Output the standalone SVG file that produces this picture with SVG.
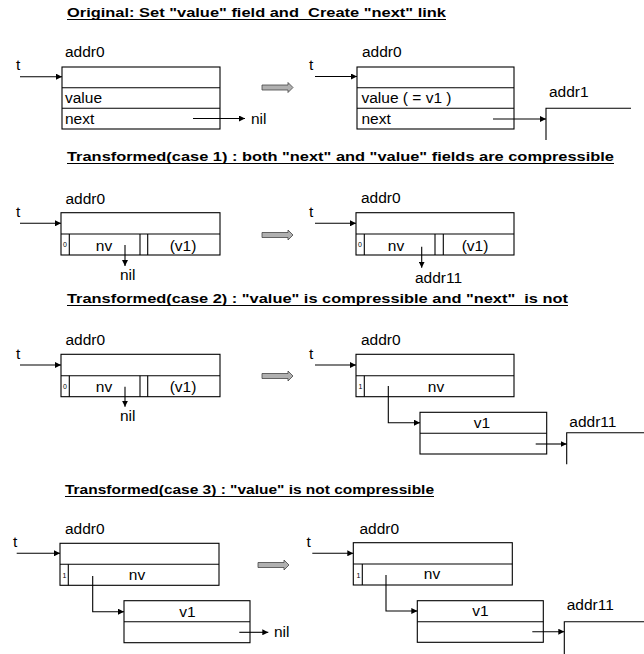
<svg xmlns="http://www.w3.org/2000/svg" width="644" height="654" viewBox="0 0 644 654">
<style>
.bx{fill:#fff;stroke:#000;stroke-width:1.1}
.ln{fill:none;stroke:#000;stroke-width:1.1}
.c{fill:none;stroke:#000;stroke-width:1.1}
.ca{fill:none;stroke:#000;stroke-width:1.1;marker-end:url(#ah)}
.lb{font-family:"Liberation Sans",Arial,sans-serif;font-size:15.5px;fill:#000}
.sm{font-family:"Liberation Sans",Arial,sans-serif;font-size:7px;fill:#000}
.tt{font-family:"Liberation Sans",Arial,sans-serif;font-size:13px;font-weight:bold;fill:#000;white-space:pre}
.ul{stroke:#000;stroke-width:1.2}
.ha{fill:#b0b0b0;stroke:#444;stroke-width:0.8}
</style>
<defs>
<marker id="ah" markerUnits="userSpaceOnUse" markerWidth="6" markerHeight="6" refX="6" refY="3" orient="auto">
<path d="M0,0 L6,3 L0,6 z" fill="#000"/>
</marker>
<path id="hollow" d="M0,-2.5 H26 V-5 L31,0 L26,5 V2.5 H0 z"/>
</defs>

<g id="titles">
<text class="tt" x="67" y="17" textLength="379" lengthAdjust="spacingAndGlyphs" xml:space="preserve">Original: Set "value" field and  Create "next" link</text>
<line class="ul" x1="67" y1="19.5" x2="446" y2="19.5"/>
<text class="tt" x="67" y="161" textLength="547" lengthAdjust="spacingAndGlyphs">Transformed(case 1) : both "next" and "value" fields are compressible</text>
<line class="ul" x1="67" y1="163.5" x2="614" y2="163.5"/>
<text class="tt" x="67" y="303" textLength="501" lengthAdjust="spacingAndGlyphs" xml:space="preserve">Transformed(case 2) : "value" is compressible and "next"  is not</text>
<line class="ul" x1="67" y1="305.5" x2="568" y2="305.5"/>
<text class="tt" x="65" y="494" textLength="369" lengthAdjust="spacingAndGlyphs">Transformed(case 3) : "value" is not compressible</text>
<line class="ul" x1="65" y1="496.5" x2="434" y2="496.5"/>
</g>

<g id="transform-arrows">
<use href="#hollow" class="ha" transform="translate(262,87.5)"/>
<use href="#hollow" class="ha" transform="translate(262,235)"/>
<use href="#hollow" class="ha" transform="translate(262,376)"/>
<use href="#hollow" class="ha" transform="translate(258,565)"/>
</g>

<!-- Row 1 -->
<g id="r1-left">
<text class="lb" x="65" y="57">addr0</text>
<text class="lb" x="16" y="70">t</text>
<rect class="bx" x="62" y="67" width="158" height="62"/>
<line class="ln" x1="62" y1="87.7" x2="220" y2="87.7"/>
<line class="ln" x1="62" y1="108.3" x2="220" y2="108.3"/>
<text class="lb" x="65" y="103">value</text>
<text class="lb" x="65" y="124">next</text>
</g>
<g id="r1-left-nil"><text class="lb" x="251" y="124">nil</text></g>
<g id="r1-right">
<text class="lb" x="362" y="57">addr0</text>
<text class="lb" x="309" y="70">t</text>
<rect class="bx" x="357" y="67" width="157" height="62"/>
<line class="ln" x1="357" y1="87.7" x2="514" y2="87.7"/>
<line class="ln" x1="357" y1="108.3" x2="514" y2="108.3"/>
<text class="lb" x="361.5" y="103">value ( = v1 )</text>
<text class="lb" x="361.5" y="124">next</text>
</g>
<g id="r1-addr1">
<text class="lb" x="549" y="97">addr1</text>
<path class="ln" d="M631,108.3 H546 V140"/>
</g>

<!-- Row 2 -->
<g id="r2-left">
<text class="lb" x="65.5" y="203.5">addr0</text>
<text class="lb" x="16" y="217">t</text>
<rect class="bx" x="61" y="212.7" width="159" height="42.3"/>
<line class="ln" x1="61" y1="234" x2="220" y2="234"/>
<line class="ln" x1="69.3" y1="234" x2="69.3" y2="255"/>
<line class="ln" x1="140" y1="234" x2="140" y2="255"/>
<line class="ln" x1="147.7" y1="234" x2="147.7" y2="255"/>
<text class="sm" x="63" y="246.5">0</text>
<text class="lb" x="104" y="250.5" text-anchor="middle">nv</text>
<text class="lb" x="183" y="250.5" text-anchor="middle">(v1)</text>
</g>
<g id="r2-left-nil"><text class="lb" x="120" y="280">nil</text></g>
<g id="r2-right">
<text class="lb" x="361" y="203">addr0</text>
<text class="lb" x="309" y="217">t</text>
<rect class="bx" x="356" y="212.7" width="158" height="42.3"/>
<line class="ln" x1="356" y1="234" x2="514" y2="234"/>
<line class="ln" x1="364.3" y1="234" x2="364.3" y2="255"/>
<line class="ln" x1="435" y1="234" x2="435" y2="255"/>
<line class="ln" x1="443.3" y1="234" x2="443.3" y2="255"/>
<text class="sm" x="358" y="246.5">0</text>
<text class="lb" x="396" y="250.5" text-anchor="middle">nv</text>
<text class="lb" x="475" y="250.5" text-anchor="middle">(v1)</text>
</g>
<g id="r2-right-addr11"><text class="lb" x="415" y="283">addr11</text></g>

<!-- Row 3 -->
<g id="r3-left">
<text class="lb" x="65.5" y="345">addr0</text>
<text class="lb" x="16" y="359">t</text>
<rect class="bx" x="61" y="354.3" width="159" height="42.4"/>
<line class="ln" x1="61" y1="375.7" x2="220" y2="375.7"/>
<line class="ln" x1="69.3" y1="375.7" x2="69.3" y2="396.7"/>
<line class="ln" x1="140" y1="375.7" x2="140" y2="396.7"/>
<line class="ln" x1="147.7" y1="375.7" x2="147.7" y2="396.7"/>
<text class="sm" x="63" y="388.5">0</text>
<text class="lb" x="104" y="392" text-anchor="middle">nv</text>
<text class="lb" x="183" y="392" text-anchor="middle">(v1)</text>
</g>
<g id="r3-left-nil"><text class="lb" x="120" y="421">nil</text></g>
<g id="r3-right">
<text class="lb" x="361" y="345">addr0</text>
<text class="lb" x="309" y="359">t</text>
<rect class="bx" x="356" y="354.3" width="158" height="42.4"/>
<line class="ln" x1="356" y1="375.7" x2="514" y2="375.7"/>
<line class="ln" x1="364.3" y1="375.7" x2="364.3" y2="396.7"/>
<text class="sm" x="358.5" y="389">1</text>
<text class="lb" x="436" y="391.7" text-anchor="middle">nv</text>
</g>
<g id="r3-right-v1">
<rect class="bx" x="420" y="412.3" width="126.7" height="41.7"/>
<line class="ln" x1="420" y1="433.3" x2="546.7" y2="433.3"/>
<text class="lb" x="482" y="427.5" text-anchor="middle">v1</text>
</g>
<g id="r3-right-addr11">
<text class="lb" x="569.3" y="426.7">addr11</text>
<path class="ln" d="M644,432.7 H566.7 V464.3"/>
</g>

<!-- Row 4 -->
<g id="r4-left">
<text class="lb" x="65" y="534">addr0</text>
<text class="lb" x="13" y="547">t</text>
<rect class="bx" x="60" y="543.3" width="159" height="42"/>
<line class="ln" x1="60" y1="564.3" x2="219" y2="564.3"/>
<line class="ln" x1="68.3" y1="564.3" x2="68.3" y2="585.3"/>
<text class="sm" x="62.5" y="578">1</text>
<text class="lb" x="137" y="580" text-anchor="middle">nv</text>
</g>
<g id="r4-left-v1">
<rect class="bx" x="124" y="600.7" width="126" height="42"/>
<line class="ln" x1="124" y1="621.7" x2="250" y2="621.7"/>
<text class="lb" x="187.5" y="616.5" text-anchor="middle">v1</text>
</g>
<g id="r4-left-nil"><text class="lb" x="274" y="637">nil</text></g>
<g id="r4-right">
<text class="lb" x="359.5" y="534">addr0</text>
<text class="lb" x="306.5" y="547">t</text>
<rect class="bx" x="353.3" y="542.7" width="159" height="42.3"/>
<line class="ln" x1="353.3" y1="564" x2="512.3" y2="564"/>
<line class="ln" x1="362.3" y1="564" x2="362.3" y2="585"/>
<text class="sm" x="356.5" y="578">1</text>
<text class="lb" x="432" y="578.5" text-anchor="middle">nv</text>
</g>
<g id="r4-right-v1">
<rect class="bx" x="417.3" y="600.7" width="126" height="41.6"/>
<line class="ln" x1="417.3" y1="621.7" x2="543.3" y2="621.7"/>
<text class="lb" x="480.5" y="616" text-anchor="middle">v1</text>
</g>
<g id="r4-right-addr11">
<text class="lb" x="566.7" y="610">addr11</text>
<path class="ln" d="M644,621.7 H564.3 V654"/>
</g>

<g id="connectors">
<path class="ca" d="M20,76.7 H62"/>
<path class="ca" d="M193,118.5 H245"/>
<path class="ca" d="M315,76.5 H357"/>
<path class="ca" d="M493,119 H546"/>
<path class="ca" d="M20,223.3 H61"/>
<path class="ca" d="M125,245 V266"/>
<path class="ca" d="M315,223.3 H356"/>
<path class="ca" d="M421.7,246.7 V267.7"/>
<path class="ca" d="M20,365 H61"/>
<path class="ca" d="M125,386.7 V406.7"/>
<path class="ca" d="M315,365 H356"/>
<path class="ca" d="M388.3,386 V422.7 H420"/>
<path class="ca" d="M535.7,444 H566.7"/>
<path class="ca" d="M16.7,553.3 H60"/>
<path class="ca" d="M92.7,576 V611.7 H124"/>
<path class="ca" d="M239.3,632.3 H268.3"/>
<path class="ca" d="M312.3,553.3 H353.3"/>
<path class="ca" d="M386,575 V611 H417.3"/>
<path class="ca" d="M532.3,631.7 H564.3"/>
</g>
</svg>
